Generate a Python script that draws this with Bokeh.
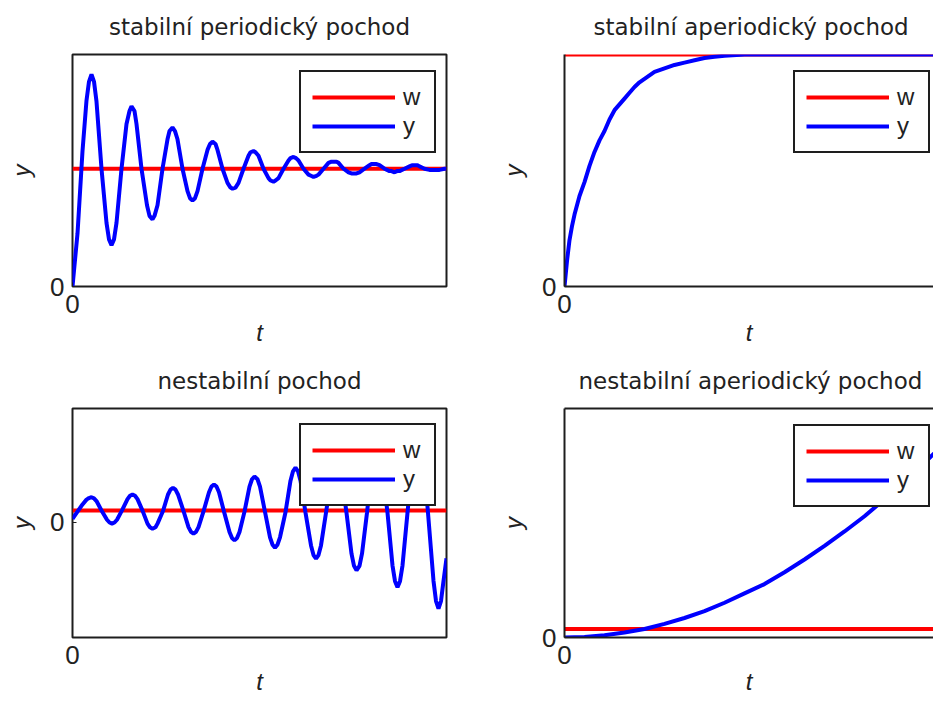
from bokeh.plotting import figure
from bokeh.models import Range1d, FixedTicker, Legend, LegendItem, LinearAxis
from bokeh.layouts import row, column
from bokeh.embed import file_html
from bokeh.resources import INLINE

# ---------------- data ----------------
titles = ["stabilní periodický pochod", "stabilní aperiodický pochod",
          "nestabilní pochod", "nestabilní aperiodický pochod"]
legend_labels = ["w", "y"]
x_label = "t"
y_label = "y"

# stable periodic response
t_sp = [0, 0.5, 1.0, 1.4, 1.65,
        1.9, 2.15, 2.4, 2.9, 3.4, 3.65,
        3.9, 4.15, 4.4, 4.9, 5.4, 5.7,
        5.9, 6.2, 6.4, 6.9, 7.45, 7.7,
        8.0, 8.2, 8.5, 9.0, 9.5, 9.7,
        10.0, 10.25, 10.5, 11.0, 11.5, 11.75,
        12.0, 12.25, 12.5, 13.0, 13.5, 13.75,
        14.0, 14.3, 14.5, 15.0, 15.5, 15.8,
        16.0, 16.3, 16.6, 17.1, 17.6, 17.8,
        18.1, 18.3, 18.6, 19.1, 19.6, 19.8,
        20.1, 20.3, 20.6, 21.1, 21.6, 21.8,
        22.1, 22.35, 22.6, 23.1, 23.6, 23.85,
        24.1, 24.4, 24.6, 25.1, 25.6, 25.9,
        26.1, 26.4, 26.6, 27.1, 27.6, 27.9,
        28.2, 28.4, 28.7, 29.2, 29.7, 29.9,
        30.2, 30.4, 30.7, 31.2, 31.7, 31.9,
        32.2, 32.45, 32.7, 33.2, 33.7, 33.95,
        34.2, 34.5, 34.7, 35.2, 35.7, 36.0,
        36.2, 36.5, 36.7, 37.2, 37.4]
y_sp = [0.00, 0.45, 1.15, 1.58, 1.74,
        1.80, 1.74, 1.57, 1.00, 0.54, 0.40,
        0.35, 0.40, 0.54, 1.00, 1.38, 1.49,
        1.53, 1.49, 1.38, 1.00, 0.69, 0.60,
        0.57, 0.60, 0.69, 1.00, 1.25, 1.32,
        1.35, 1.32, 1.25, 1.00, 0.81, 0.75,
        0.73, 0.75, 0.81, 1.00, 1.16, 1.21,
        1.23, 1.21, 1.16, 1.00, 0.88, 0.84,
        0.83, 0.84, 0.88, 1.00, 1.11, 1.14,
        1.15, 1.14, 1.11, 1.00, 0.92, 0.90,
        0.89, 0.90, 0.92, 1.00, 1.07, 1.09,
        1.10, 1.09, 1.07, 1.00, 0.95, 0.94,
        0.93, 0.94, 0.95, 1.00, 1.05, 1.06,
        1.06, 1.06, 1.05, 1.00, 0.97, 0.96,
        0.96, 0.96, 0.97, 1.00, 1.03, 1.04,
        1.04, 1.04, 1.03, 1.00, 0.98, 0.98,
        0.97, 0.98, 0.98, 1.00, 1.02, 1.03,
        1.03, 1.03, 1.02, 1.00, 0.99, 0.99,
        0.99, 0.99, 0.99, 1.00, 1.00]

# stable aperiodic response
t_sa = [0, 0.25, 0.5, 0.75, 1, 1.25, 1.5, 2, 2.5, 3, 3.5, 4, 4.5, 5, 5.5, 6, 6.5,
        7, 7.5, 8, 9, 10, 11, 12, 13, 14, 15, 16, 18, 20, 25, 30, 37.4]
y_sa = [0, 0.11, 0.20, 0.26, 0.31, 0.35, 0.39, 0.45, 0.52, 0.58, 0.63, 0.67, 0.72,
        0.76, 0.785, 0.81, 0.835, 0.86, 0.88, 0.895, 0.925, 0.94, 0.955, 0.965,
        0.975, 0.985, 0.99, 0.995, 1.0, 1.0, 1.0, 1.0, 1.0]

# unstable periodic response
t_up = [0, 0.5, 1.0, 1.4, 1.65,
        1.9, 2.15, 2.4, 2.9, 3.45, 3.7,
        3.95, 4.2, 4.45, 4.95, 5.5, 5.75,
        6.0, 6.25, 6.5, 7.0, 7.5, 7.75,
        8.0, 8.3, 8.5, 9.05, 9.55, 9.8,
        10.05, 10.3, 10.55, 11.1, 11.6, 11.85,
        12.1, 12.35, 12.6, 13.1, 13.65, 13.9,
        14.15, 14.4, 14.65, 15.15, 15.7, 15.95,
        16.2, 16.45, 16.7, 17.2, 17.7, 17.95,
        18.2, 18.5, 18.75, 19.25, 19.75, 20.0,
        20.25, 20.5, 20.75, 21.3, 21.8, 22.05,
        22.3, 22.55, 22.8, 23.3, 23.85, 24.1,
        24.35, 24.6, 24.85, 25.35, 25.9, 26.15,
        26.4, 26.65, 26.9, 27.4, 27.9, 28.15,
        28.4, 28.7, 28.95, 29.45, 29.95, 30.2,
        30.45, 30.7, 30.95, 31.5, 32.0, 32.25,
        32.5, 32.75, 33.0, 33.5, 34.05, 34.3,
        34.55, 34.8, 35.05, 35.55, 36.1, 36.35,
        36.6, 36.85, 37.1, 37.4]
y_up = [0.30, 0.90, 1.50, 1.90, 2.03,
        2.10, 2.01, 1.78, 1.00, 0.22, -0.01,
        -0.10, -0.01, 0.22, 1.00, 1.94, 2.22,
        2.33, 2.22, 1.94, 0.98, -0.10, -0.41,
        -0.53, -0.41, -0.10, 0.95, 2.33, 2.73,
        2.89, 2.73, 2.33, 0.95, -0.39, -0.79,
        -0.94, -0.79, -0.39, 0.92, 2.51, 2.99,
        3.17, 2.99, 2.51, 0.90, -0.80, -1.31,
        -1.50, -1.31, -0.80, 0.90, 2.98, 3.60,
        3.83, 3.60, 2.98, 0.88, -1.24, -1.86,
        -2.10, -1.86, -1.24, 0.85, 3.48, 4.26,
        4.56, 4.26, 3.48, 0.82, -1.92, -2.72,
        -3.03, -2.72, -1.92, 0.80, 3.92, 4.85,
        5.20, 4.85, 3.92, 0.80, -2.61, -3.62,
        -4.00, -3.62, -2.61, 0.80, 4.78, 5.95,
        6.40, 5.95, 4.78, 0.80, -3.60, -4.90,
        -5.40, -4.90, -3.60, 0.80, 5.77, 7.24,
        7.80, 7.24, 5.77, 0.80, -4.88, -6.56,
        -7.20, -6.56, -4.88, -3.00]

# unstable aperiodic response
t_ua = [0, 2, 4, 6, 8, 10, 12, 14, 16, 18, 20, 22, 24, 26, 28, 30, 32, 34, 36, 37.4]
y_ua = [0, 0.07, 0.27, 0.6, 1.0, 1.6, 2.3, 3.1, 4.1, 5.2, 6.3, 7.7, 9.2, 10.8,
        12.5, 14.3, 16.3, 18.4, 20.6, 22.2]

# set-point w
t_w = [0, 37.4]
w_val = [1, 1]

# ---------------- styling ----------------
INK = "#1e1e1e"
TXT = "#222222"
RED = "#ff0000"
BLUE = "#0000ff"


def make_fig(title, width, height, xr, yr, left, right, top, bottom, side,
             t, y, title_standoff, x_label_standoff, title_align="center",
             title_offset=0, legend_y=133, top_border=False):
    p = figure(width=width, height=height, x_range=Range1d(*xr), y_range=Range1d(*yr),
               output_backend="svg", toolbar_location=None,
               min_border_left=left, min_border_right=right,
               min_border_top=top, min_border_bottom=bottom,
               background_fill_color="white", border_fill_color="white")
    p.grid.visible = False
    p.title.text = title
    p.title.text_font = "DejaVu Sans"
    p.title.text_font_size = "23px"
    p.title.text_font_style = "normal"
    p.title.text_color = TXT
    p.title.align = title_align
    p.title.offset = title_offset
    p.title.vertical_align = "top"
    p.title.standoff = title_standoff

    for ax in (p.xaxis[0], p.yaxis[0]):
        ax.ticker = FixedTicker(ticks=[0], minor_ticks=[])
        ax.major_tick_in = 4
        ax.major_tick_out = 0
        ax.minor_tick_in = 0
        ax.minor_tick_out = 0
        ax.major_tick_line_color = INK
        ax.major_label_text_font = "Liberation Sans"
        ax.major_label_text_font_size = "26px"
        ax.major_label_text_color = TXT
        ax.major_label_standoff = 8
        ax.axis_label_text_font = "Liberation Sans"
        ax.axis_label_text_font_style = "italic"
        ax.axis_label_text_font_size = "24px"
        ax.axis_label_text_color = TXT
    p.yaxis.axis_label = y_label
    p.yaxis.axis_label_standoff = 12
    p.xaxis.axis_label = x_label
    p.xaxis.axis_label_standoff = x_label_standoff

    if side == "left":
        p.outline_line_color = INK
        p.outline_line_width = 2
        p.outline_line_alpha = 1
        p.axis.axis_line_color = None
    else:
        p.outline_line_color = None
        p.axis.axis_line_color = INK
        p.axis.axis_line_width = 2
        if top_border:
            topax = LinearAxis(ticker=FixedTicker(ticks=[], minor_ticks=[]),
                               major_label_text_font_size="0px", major_tick_out=0,
                               major_tick_in=0, minor_tick_in=0, minor_tick_out=0,
                               major_label_standoff=0, axis_line_color=INK,
                               axis_line_width=2)
            p.add_layout(topax, "above")

    rw = p.line(t_w, w_val, line_color=RED, line_width=4)
    ry = p.line(t, y, line_color=BLUE, line_width=4)

    leg = Legend(items=[LegendItem(label=legend_labels[0], renderers=[rw]),
                        LegendItem(label=legend_labels[1], renderers=[ry])],
                 location=(227 if side == "left" else 229, legend_y),
                 padding=11, spacing=1, margin=0, glyph_width=83, glyph_height=20,
                 label_standoff=8, label_text_font="Liberation Sans",
                 label_text_font_size="24px", label_text_color=TXT,
                 border_line_color=INK, border_line_width=2, border_line_alpha=1,
                 background_fill_color="white", background_fill_alpha=1)
    p.add_layout(leg)
    return p


p1 = make_fig(titles[0], 460, 354, (0, 37.4), (0, 1.97), 72, 14, 54, 68, "left",
              t_sp, y_sp, 25, 3, legend_y=133)
p2 = make_fig(titles[1], 473, 354, (0, 36.9), (0, 1.0), 104, 0, 54, 68, "right",
              t_sa, y_sa, 25, 3, title_align="left", title_offset=29, legend_y=133)
p3 = make_fig(titles[2], 460, 348, (0, 37.4), (-9.6, 9.5), 72, 14, 54, 65, "left",
              t_up, y_up, 25, 1, legend_y=131)
p4 = make_fig(titles[3], 473, 348, (0, 36.9), (0, 27), 104, 0, 54, 65, "right",
              t_ua, y_ua, 25, 1, title_align="left", title_offset=14, legend_y=130,
              top_border=True)

layout = column(row(p1, p2), row(p3, p4))

open("out.html", "w").write(file_html(layout, INLINE))
